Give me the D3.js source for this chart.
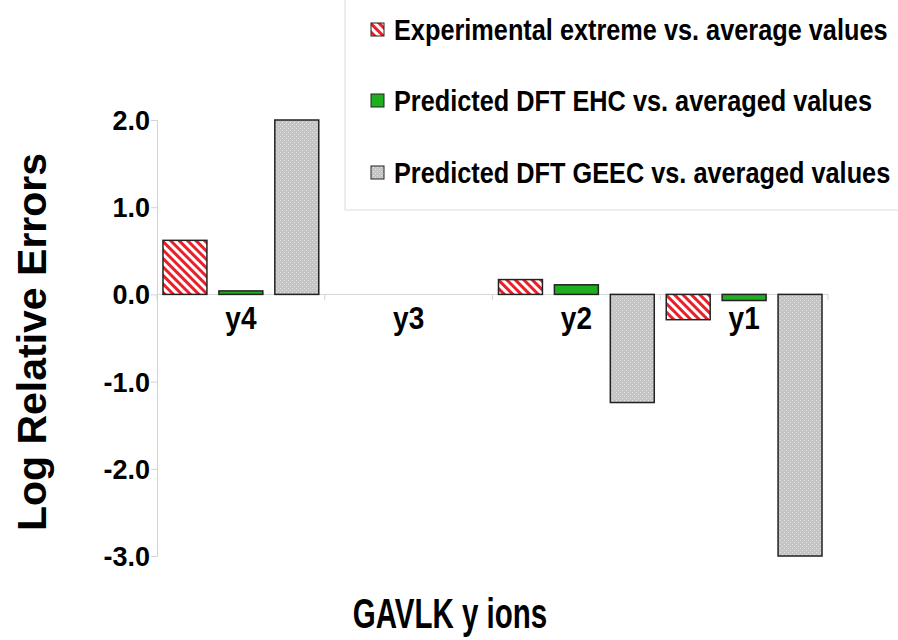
<!DOCTYPE html>
<meta charset="utf-8">
<style>
body { margin: 0; background: #fff; }
text { font-family: "Liberation Sans", Arial, sans-serif; font-weight: bold; fill: #000; }
</style>
<svg width="898" height="640"></svg>
<script src="https://d3js.org/d3.v7.min.js"></script>
<script>

var categories = ["y4", "y3", "y2", "y1"];
var seriesNames = [
  "Experimental extreme vs. average values",
  "Predicted DFT EHC vs. averaged values",
  "Predicted DFT GEEC vs. averaged values"
];
var experimental = [0.62, null, 0.17, -0.29];
var ehc = [0.04, null, 0.11, -0.07];
var geec = [2.0, null, -1.24, -3.0];
var yTicks = [2, 1, 0, -1, -2, -3];

var svg = d3.select("svg");

var defs = svg.append("defs");

// red diagonal hatch
var hatch = defs.append("pattern")
    .attr("id", "hatch")
    .attr("patternUnits", "userSpaceOnUse")
    .attr("width", 6).attr("height", 6)
    .attr("patternTransform", "rotate(45)");
hatch.append("rect").attr("width", 6).attr("height", 6).attr("fill", "#fff");
hatch.append("rect").attr("width", 6).attr("height", 3).attr("fill", "#e8202a");

// gray stipple
var dots = defs.append("pattern")
    .attr("id", "dots")
    .attr("patternUnits", "userSpaceOnUse")
    .attr("width", 4).attr("height", 4);
dots.append("rect").attr("width", 4).attr("height", 4).attr("fill", "#c4c4c4");
dots.append("rect").attr("x", 0).attr("y", 0).attr("width", 1).attr("height", 1).attr("fill", "#e4e4e4");
dots.append("rect").attr("x", 2).attr("y", 2).attr("width", 1).attr("height", 1).attr("fill", "#e4e4e4");

var fills = ["url(#hatch)", "#1fae1f", "url(#dots)"];

var x = d3.scaleBand()
    .domain(categories)
    .range([157, 828]);

var x1 = d3.scaleBand()
    .domain(d3.range(3))
    .range([0, x.bandwidth()])
    .paddingInner(0.214)
    .paddingOuter(0.107);

var y = d3.scaleLinear()
    .domain([-3, 2])
    .range([556, 120]);

// y axis
var yAxis = svg.append("g")
    .attr("transform", "translate(157,0)")
    .call(d3.axisLeft(y).tickValues(yTicks).tickSize(6).tickPadding(1)
      .tickFormat(function(d) { return d.toFixed(1); }));
yAxis.select(".domain").attr("stroke", "#d4d4d4");
yAxis.selectAll(".tick line").attr("stroke", "#d4d4d4");
yAxis.selectAll(".tick text")
    .attr("font-size", 27)
    .attr("font-family", "'Liberation Sans', Arial, sans-serif")
    .attr("dy", "0.35em");

// zero line and category boundary ticks
var y0 = y(0);
svg.append("line")
    .attr("x1", x.range()[0]).attr("x2", x.range()[1])
    .attr("y1", y0).attr("y2", y0)
    .attr("stroke", "#d4d4d4");
svg.selectAll(".ctick")
    .data(categories.map(function(c) { return x(c); }).concat([x.range()[1]]))
    .enter().append("line")
    .attr("class", "ctick")
    .attr("x1", function(d) { return d; }).attr("x2", function(d) { return d; })
    .attr("y1", y0).attr("y2", y0 + 6)
    .attr("stroke", "#d4d4d4");

// bars
var series = [experimental, ehc, geec];
series.forEach(function(vals, si) {
  svg.append("g").selectAll("rect")
    .data(categories.map(function(c, i) { return {cat: c, v: vals[i]}; })
      .filter(function(d) { return d.v !== null; }))
    .enter().append("rect")
      .attr("x", function(d) { return x(d.cat) + x1(si); })
      .attr("width", x1.bandwidth())
      .attr("y", function(d) { return y(Math.max(0, d.v)); })
      .attr("height", function(d) { return Math.abs(y(d.v) - y0); })
      .attr("fill", fills[si])
      .attr("stroke", "#222")
      .attr("stroke-width", 1.5);
});

// category labels
svg.append("g").selectAll("text")
    .data(categories)
    .enter().append("text")
      .attr("text-anchor", "middle")
      .attr("font-size", 28)
      .attr("transform", function(d) {
        return "translate(" + (x(d) + x.bandwidth() / 2) + "," + (y0 + 35) + ") scale(1,1.1)";
      })
      .text(function(d) { return d; });

// axis titles
svg.append("text")
    .attr("text-anchor", "middle")
    .attr("font-size", 29.5)
    .attr("transform", "translate(450,628) scale(1,1.45)")
    .text("GAVLK y ions");

svg.append("text")
    .attr("text-anchor", "middle")
    .attr("font-size", 41)
    .attr("transform", "translate(46,342) rotate(-90)")
    .text("Log Relative Errors");

// legend
var legend = svg.append("g");
legend.append("rect")
    .attr("x", 345).attr("y", -2)
    .attr("width", 560).attr("height", 212)
    .attr("fill", "#fff")
    .attr("stroke", "#dcdcdc");
var rowY = [30, 101, 173];
var item = legend.selectAll(".item")
    .data(seriesNames)
    .enter().append("g")
      .attr("transform", function(d, i) { return "translate(371," + rowY[i] + ")"; });
item.append("rect")
    .attr("x", 0).attr("y", -7)
    .attr("width", 13).attr("height", 13)
    .attr("fill", function(d, i) { return fills[i]; })
    .attr("stroke", "#222")
    .attr("stroke-width", 1);
item.append("text")
    .attr("font-size", 25.3)
    .attr("transform", "translate(23,10) scale(1,1.2)")
    .text(function(d) { return d; });

</script>
